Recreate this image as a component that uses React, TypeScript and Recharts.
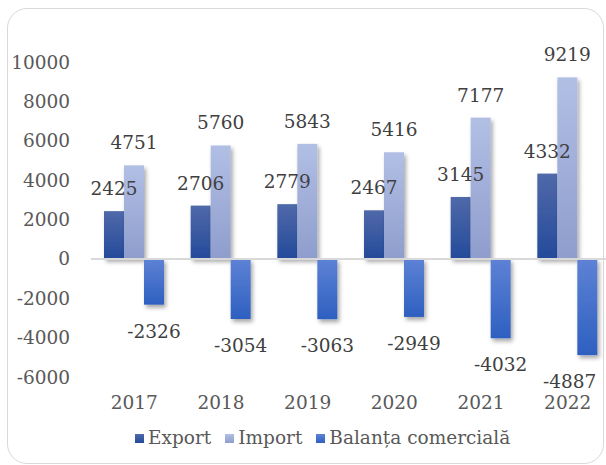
import React from 'react'
import { BarChart, Bar, XAxis, YAxis, ReferenceLine, Legend, LabelList } from 'recharts'

// Export / import / trade balance, 2017-2022
const years = ['2017', '2018', '2019', '2020', '2021', '2022']
const exportValues = [2425, 2706, 2779, 2467, 3145, 4332]
const importValues = [4751, 5760, 5843, 5416, 7177, 9219]
const balanceValues = [-2326, -3054, -3063, -2949, -4032, -4887]
const yTicks = [-6000, -4000, -2000, 0, 2000, 4000, 6000, 8000, 10000]
const seriesNames = ['Export', 'Import', 'Balanța comercială']

const data = years.map((year, i) => ({
  year,
  exp: exportValues[i],
  imp: importValues[i],
  bal: balanceValues[i],
}))

// only DejaVu Serif resolves to a serif face here
const FONT = '"DejaVu Serif", serif'
const FS = 18.5
const RIGHT_LIMIT = 601

const BarShape = (props: any) => {
  const { x, y, width, height, fill } = props
  const top = Math.min(y, y + height)
  return (
    <rect
      x={x}
      y={top}
      width={width}
      height={Math.abs(height)}
      fill={fill}
      filter="url(#barShadow)"
    />
  )
}

const renderValueLabel = (props: any) => {
  const vb = props.viewBox ?? props
  const { x, y, width, height } = vb
  const value = props.value
  const top = Math.min(y, y + height)
  const bottom = Math.max(y, y + height)
  const ty = value < 0 ? bottom + 33 : top - 16
  // keep labels inside the frame, like the original does for the last bar
  const half = String(value).length * FS * 0.34
  const cx = Math.min(x + width / 2, RIGHT_LIMIT - half)
  return (
    <text x={cx} y={ty} textAnchor="middle" fill="#404040" fontSize={FS} fontFamily={FONT}>
      {value}
    </text>
  )
}

const renderLegend = (props: any) => {
  const payload = [...(props.payload || [])].sort(
    (a: any, b: any) => seriesNames.indexOf(a.value) - seriesNames.indexOf(b.value)
  )
  return (
    <div
      style={{
        display: 'flex',
        alignItems: 'flex-start',
        height: 40,
        paddingLeft: 135,
        fontFamily: FONT,
        fontSize: FS,
        color: '#595959',
        lineHeight: '26px',
      }}
    >
      {payload.map((entry: any) => (
        <div key={entry.value} style={{ display: 'flex', alignItems: 'center', marginRight: 14 }}>
          <svg width={9} height={9} style={{ marginRight: 4 }}>
            <rect width={9} height={9} fill={entry.color} />
          </svg>
          <span>{entry.value}</span>
        </div>
      ))}
    </div>
  )
}

export default function App() {
  return (
    <div
      style={{
        position: 'absolute',
        left: 0,
        top: 0,
        width: 606,
        height: 465,
        overflow: 'hidden',
        background: '#fff',
      }}
    >
      <svg width={0} height={0} style={{ position: 'absolute' }}>
        <defs>
          <linearGradient id="gradExport" x1="0" y1="0" x2="0" y2="1">
            <stop offset="0%" stopColor="#5069a9" />
            <stop offset="100%" stopColor="#244a9a" />
          </linearGradient>
          <linearGradient id="gradImport" x1="0" y1="0" x2="0" y2="1">
            <stop offset="0%" stopColor="#b2bfe5" />
            <stop offset="100%" stopColor="#8e9dcc" />
          </linearGradient>
          <linearGradient id="gradBalance" x1="0" y1="0" x2="0" y2="1">
            <stop offset="0%" stopColor="#5d82d5" />
            <stop offset="100%" stopColor="#2e60c0" />
          </linearGradient>
          <filter id="barShadow" x="-50%" y="-20%" width="200%" height="140%">
            <feDropShadow dx="2" dy="3" stdDeviation="2" floodColor="#000" floodOpacity="0.35" />
          </filter>
        </defs>
      </svg>
      <div
        style={{
          position: 'absolute',
          left: 7,
          top: 8,
          width: 597,
          height: 456,
          border: '1.5px solid #d9d9d9',
          borderRadius: 20,
          boxSizing: 'border-box',
        }}
      />
      <div style={{ position: 'absolute', left: 0, top: 0 }}>
        <BarChart
          width={620}
          height={465}
          data={data}
          margin={{ top: 62, right: 9, bottom: 0, left: 0 }}
          barGap={0}
          barSize={20}
        >
          <ReferenceLine y={0} stroke="#d9d9d9" strokeWidth={2} />
          <XAxis
            dataKey="year"
            axisLine={false}
            tickLine={false}
            tickSize={0}
            tickMargin={19}
            height={48}
            interval={0}
            tick={{ fill: '#595959', fontSize: FS, fontFamily: FONT }}
          />
          <YAxis
            domain={[-6000, 10000]}
            ticks={yTicks}
            axisLine={false}
            tickLine={false}
            tickSize={0}
            tickMargin={21}
            width={91}
            interval={0}
            tick={{ fill: '#595959', fontSize: FS, fontFamily: FONT }}
          />
          <Legend verticalAlign="bottom" content={renderLegend} wrapperStyle={{ left: 0, width: 620 }} />
          <Bar dataKey="exp" name={seriesNames[0]} fill="url(#gradExport)" shape={BarShape} isAnimationActive={false}>
            <LabelList dataKey="exp" content={renderValueLabel} />
          </Bar>
          <Bar dataKey="imp" name={seriesNames[1]} fill="url(#gradImport)" shape={BarShape} isAnimationActive={false}>
            <LabelList dataKey="imp" content={renderValueLabel} />
          </Bar>
          <Bar dataKey="bal" name={seriesNames[2]} fill="url(#gradBalance)" shape={BarShape} isAnimationActive={false}>
            <LabelList dataKey="bal" content={renderValueLabel} />
          </Bar>
        </BarChart>
      </div>
    </div>
  )
}
